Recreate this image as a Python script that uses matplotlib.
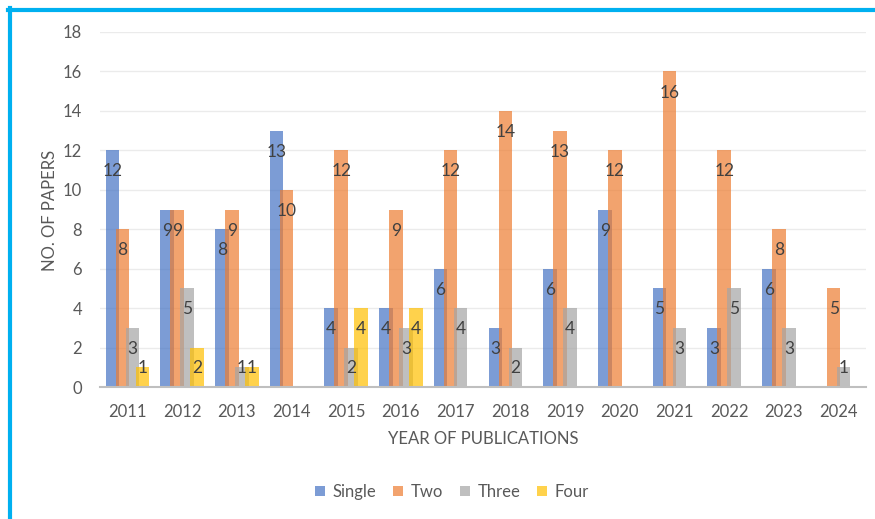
import numpy as np
import matplotlib.pyplot as plt
from matplotlib.lines import Line2D
from matplotlib.patches import Patch

years = ['2011', '2012', '2013', '2014', '2015', '2016', '2017',
         '2018', '2019', '2020', '2021', '2022', '2023', '2024']
single = [12, 9, 8, 13, 4, 4, 6, 3, 6, 9, 5, 3, 6, 0]
two = [8, 9, 9, 10, 12, 9, 12, 14, 13, 12, 16, 12, 8, 5]
three = [3, 5, 1, 0, 2, 3, 4, 2, 4, 0, 3, 5, 3, 1]
four = [1, 2, 1, 0, 4, 4, 0, 0, 0, 0, 0, 0, 0, 0]

series = [('Single', single, '#4472C4'),
          ('Two', two, '#ED7D31'),
          ('Three', three, '#A5A5A5'),
          ('Four', four, '#FFC000')]

plt.rcParams['font.family'] = ['Lato', 'DejaVu Sans']
txt = '#595959'
fs = 12

W, H = 875, 519
fig = plt.figure(figsize=(W / 100, H / 100), dpi=100)
ax = fig.add_axes([100 / W, 1 - 387 / H, 766 / W, 355 / H])

x = np.arange(len(years))
step = 0.183
width = 0.247
for i, (name, vals, col) in enumerate(series):
    pos = x + (i - 1.5) * step
    ax.bar(pos, vals, width, color=col, alpha=0.7, label=name, zorder=3, linewidth=0)
    for px, v in zip(pos, vals):
        if v > 0:
            ax.text(px, max(v - 1.07, 0.95), str(v), ha='center', va='center',
                    fontsize=12.5, color='#404040', zorder=4)

ax.set_xlim(-0.5, len(years) - 0.5)
ax.set_ylim(0, 18)
ax.set_yticks(range(0, 19, 2))
ax.set_xticks(x)
ax.set_xticklabels(years)
ax.grid(axis='y', color='#EBEBEB', linewidth=1, zorder=0)
for s in ['top', 'right', 'left']:
    ax.spines[s].set_visible(False)
ax.spines['bottom'].set_color('#BFBFBF')
ax.spines['bottom'].set_linewidth(1.5)
ax.spines['bottom'].set_zorder(5)
ax.tick_params(axis='both', length=0, labelsize=fs, labelcolor=txt)
ax.tick_params(axis='y', pad=13)
ax.tick_params(axis='x', pad=12)

fig.text(50 / W, 1 - 210 / H, 'NO. OF PAPERS', rotation=90, ha='center', va='center',
         fontsize=fs, color=txt)
fig.text(483 / W, 1 - 439 / H, 'YEAR OF PUBLICATIONS', ha='center', va='center',
         fontsize=fs, color=txt)

handles = [Patch(facecolor=c, alpha=0.7, linewidth=0) for _, _, c in series]
fig.legend(handles, [n for n, _, _ in series], loc='center', ncol=4,
           bbox_to_anchor=(452 / W, 1 - 492 / H), frameon=False, fontsize=fs,
           handlelength=0.6, handleheight=0.6, handletextpad=0.45,
           columnspacing=1.0, labelcolor=txt)

# blue frame on top and left
fig.add_artist(Line2D([8 / W, 1], [1 - 10 / H, 1 - 10 / H], color='#00B0F0', linewidth=3))
fig.add_artist(Line2D([10 / W, 10 / W], [0, 1 - 8 / H], color='#00B0F0', linewidth=3))

fig.savefig('out.png', dpi=100)
